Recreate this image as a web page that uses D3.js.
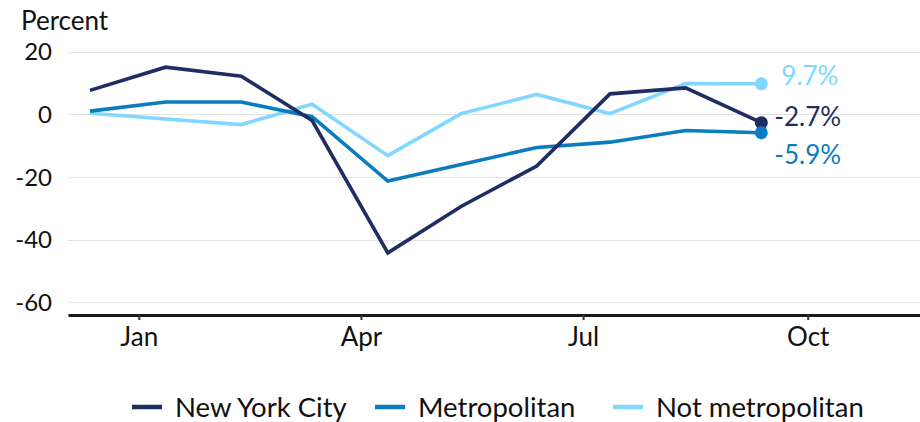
<!DOCTYPE html>
<html>
<head>
<meta charset="utf-8">
<script src="https://cdn.jsdelivr.net/npm/d3@7"></script>
<style>
  body { margin: 0; background: #ffffff; }
  svg { display: block; font-family: Lato, "Open Sans", sans-serif; }
</style>
</head>
<body>
<div id="chart"></div>
<script>
// monthly observations (plotted on the 12th of each month)
const months = ["2019-12", "2020-01", "2020-02", "2020-03", "2020-04", "2020-05", "2020-06", "2020-07", "2020-08", "2020-09"];
const nycValues = [7.6, 15.0, 12.1, -2.0, -44.2, -29.4, -16.5, 6.5, 8.4, -2.7];
const metroValues = [1.0, 3.9, 3.9, -0.8, -21.3, -16.0, -10.6, -8.9, -5.2, -5.9];
const nonMetroValues = [0.3, -1.5, -3.3, 3.2, -13.2, 0.2, 6.3, 0.2, 9.8, 9.7];
const seriesNames = ["New York City", "Metropolitan", "Not metropolitan"];
const yTicks = [20, 0, -20, -40, -60];
const xTickDates = ["2020-01-01", "2020-04-01", "2020-07-01", "2020-10-01"];
const xTickLabels = ["Jan", "Apr", "Jul", "Oct"];

const palette = ["#1f2d63", "#0a7cbf", "#82d7ff"];

const width = 920;
const height = 422;
const margin = { top: 51.5, right: 0, bottom: 107, left: 68 };

const parseMonth = d3.timeParse("%Y-%m");
const parseDay = d3.timeParse("%Y-%m-%d");
const pointDates = months.map((m) => d3.timeDay.offset(parseMonth(m), 11));

const series = [nycValues, metroValues, nonMetroValues].map((values, i) => ({
  name: seriesNames[i],
  color: palette[i],
  points: values.map((v, j) => ({ date: pointDates[j], value: v }))
}));

const x = d3.scaleTime()
  .domain([parseDay("2019-12-03"), parseDay("2020-11-16")])
  .range([margin.left, width - margin.right]);
const y = d3.scaleLinear()
  .domain([-64, 20])
  .range([height - margin.bottom, margin.top]);

const svg = d3.select("#chart").append("svg")
  .attr("width", width)
  .attr("height", height);

svg.append("text")
  .attr("x", 21)
  .attr("y", 30)
  .attr("font-size", 26)
  .attr("fill", "#111")
  .text("Percent");

// gridlines + y labels
svg.append("g")
  .selectAll("line")
  .data(yTicks)
  .join("line")
  .attr("x1", margin.left)
  .attr("x2", width)
  .attr("y1", (d) => Math.round(y(d)) + 0.5)
  .attr("y2", (d) => Math.round(y(d)) + 0.5)
  .attr("stroke", "#e2e2e2")
  .attr("stroke-width", 1);

svg.append("g")
  .selectAll("text")
  .data(yTicks)
  .join("text")
  .attr("x", 52)
  .attr("y", (d) => y(d))
  .attr("dy", "0.36em")
  .attr("text-anchor", "end")
  .attr("font-size", 24)
  .attr("fill", "#111")
  .text((d) => d);

// x axis
const xAxis = d3.axisBottom(x)
  .tickValues(xTickDates.map(parseDay))
  .tickFormat((d, i) => xTickLabels[i])
  .tickSize(5)
  .tickSizeOuter(0)
  .tickPadding(8);

svg.append("g")
  .attr("transform", `translate(0,${height - margin.bottom})`)
  .call(xAxis)
  .call((g) => g.select(".domain").attr("stroke", "#1a1a1a").attr("stroke-width", 3))
  .call((g) => g.selectAll(".tick line").attr("stroke", "#333").attr("stroke-width", 2))
  .call((g) => g.selectAll(".tick text")
    .attr("font-family", "Lato, sans-serif")
    .attr("font-size", 26)
    .attr("fill", "#111"));

// lines
const line = d3.line()
  .x((d) => x(d.date))
  .y((d) => y(d.value));

const lineOrder = [2, 1, 0];
svg.append("g")
  .selectAll("path")
  .data(lineOrder.map((i) => series[i]))
  .join("path")
  .attr("fill", "none")
  .attr("stroke", (d) => d.color)
  .attr("stroke-width", 3.6)
  .attr("stroke-linejoin", "miter")
  .attr("d", (d) => line(d.points));

// end dots and labels
const labelShift = [-6, 22, -8];
const labelDx = [13, 13, 20];
series.forEach((s, i) => {
  const last = s.points[s.points.length - 1];
  svg.append("circle")
    .attr("cx", x(last.date))
    .attr("cy", y(last.value))
    .attr("r", 6.5)
    .attr("fill", s.color);
  svg.append("text")
    .attr("x", x(last.date) + labelDx[i])
    .attr("y", y(last.value) + labelShift[i])
    .attr("dy", "0.36em")
    .attr("font-size", 26)
    .attr("fill", s.color)
    .text(`${last.value.toFixed(1)}%`);
});

// legend
const legendX = [132, 375, 613];
const legend = svg.append("g");
series.forEach((s, i) => {
  legend.append("line")
    .attr("x1", legendX[i])
    .attr("x2", legendX[i] + 30)
    .attr("y1", 407)
    .attr("y2", 407)
    .attr("stroke", s.color)
    .attr("stroke-width", 4.5);
  legend.append("text")
    .attr("x", legendX[i] + 43)
    .attr("y", 407)
    .attr("dy", "0.36em")
    .attr("font-size", 27.5)
    .attr("fill", "#111")
    .text(s.name);
});
</script>
</body>
</html>
